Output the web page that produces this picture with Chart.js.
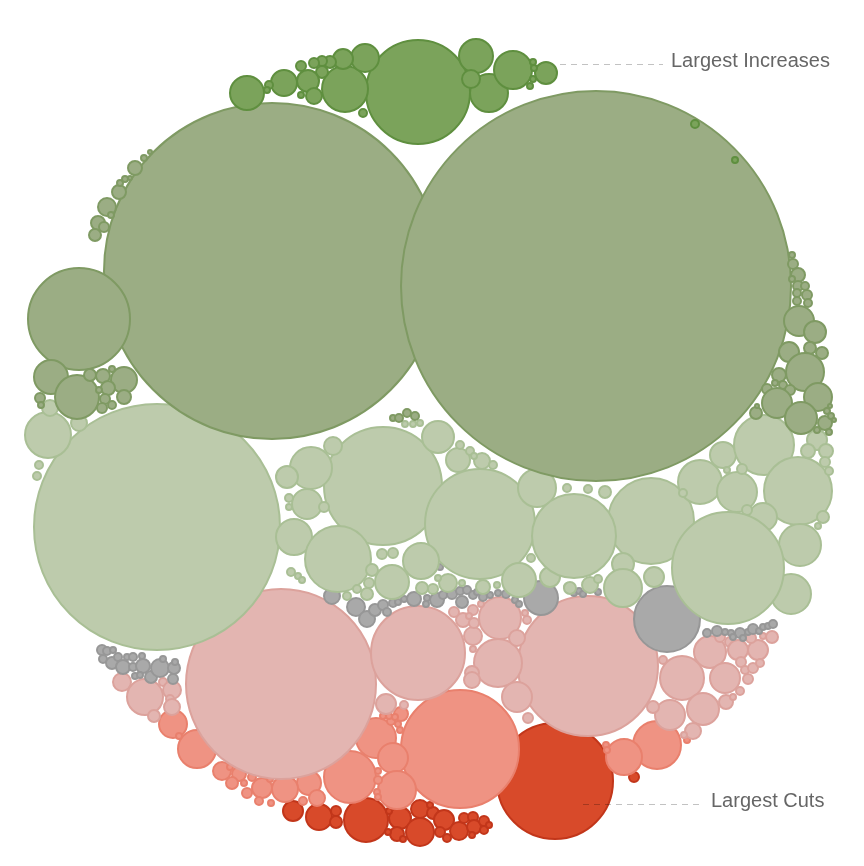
<!DOCTYPE html>
<html>
<head>
<meta charset="utf-8">
<script src="https://cdn.jsdelivr.net/npm/chart.js@4/dist/chart.umd.min.js"></script>
<style>
  html, body { margin: 0; padding: 0; background: #fff; }
  #wrap { width: 864px; height: 866px; position: relative; }
</style>
</head>
<body>
<div id="wrap"><canvas id="bubbles"></canvas></div>
<script>
// circles as [x, y, radius] (y grows downward)
const bigGains = [
  [418,92,52],[476,56,17],[489,93,19],[513,70,19],[471,79,9],[546,73,11],[534,68,3],[533,62,3],
  [533,79,3],[530,86,3],[345,89,23],[365,58,14],[343,59,10],[330,62,6],[322,61,5],[314,63,5],
  [301,66,5],[322,72,6],[308,81,11],[284,83,13],[247,93,17],[269,85,4],[267,90,3],[314,96,8],
  [301,95,3],[363,113,4],[695,124,4],[735,160,3]
];
const gains = [
  [272,271,168],[596,286,195],[79,319,51],[51,377,17],[77,397,22],[90,375,6],[103,376,7],
  [124,380,13],[124,397,7],[108,388,7],[105,399,5],[112,369,3],[40,398,5],[41,405,3],[102,408,5],
  [112,405,4],[99,390,3],
  [135,168,7],[144,158,3],[150,152,2],[119,192,7],[120,183,3],[125,179,3],[130,178,2],[107,207,9],
  [111,215,3],[98,223,7],[104,227,5],[95,235,6],
  [792,255,3],[793,264,5],[798,275,7],[792,279,3],[798,286,5],[805,286,4],[797,293,4],[807,295,5],
  [797,301,4],[808,303,4],[799,321,15],[815,332,11],[789,352,10],[810,348,6],[822,353,6],[805,372,19],
  [779,375,7],[775,383,3],[783,385,4],[767,389,5],[790,390,5],[818,397,14],[777,403,15],[801,418,16],
  [756,413,6],[757,406,2],[825,423,7],[827,411,3],[830,406,2],[831,416,3],[834,420,2],[817,430,3],
  [829,432,3],
  [393,418,3],[399,418,4],[407,413,4],[415,416,4]
];
const smallGains = [
  [157,527,123],[48,435,23],[50,408,8],[79,423,8],[39,465,4],[37,476,4],
  [383,486,59],[333,446,9],[311,468,21],[287,477,11],[307,504,15],[289,498,4],[289,507,3],[324,507,5],
  [294,537,18],[338,559,33],[438,437,16],[458,460,12],[460,445,4],[470,451,4],[482,461,8],[493,465,4],
  [474,456,3],[405,424,3],[413,424,3],[420,423,3],
  [480,524,55],[537,488,19],[567,488,4],[588,489,4],[605,492,6],[382,554,5],[393,553,5],[421,561,18],
  [392,582,17],[372,570,6],[369,583,5],[367,594,6],[291,572,4],[298,576,3],[302,580,3],[448,583,9],
  [422,588,6],[433,589,5],[438,578,3],[483,587,7],[462,583,3],[519,580,17],[531,558,4],[550,577,10],
  [497,585,3],[357,589,4],[347,596,4],[568,587,4],
  [651,521,43],[574,536,42],[700,482,22],[723,455,13],[737,492,20],[764,445,30],[742,469,5],[727,470,3],
  [683,493,4],[798,491,34],[763,517,14],[747,510,5],[800,545,21],[791,594,20],[728,568,56],[817,440,10],
  [808,451,7],[826,451,7],[825,462,5],[829,471,4],[823,517,6],[818,526,3],[623,564,11],[623,588,19],
  [654,577,10],[570,588,6],[590,585,8],[598,579,4]
];
const noChange = [
  [667,619,33],[541,598,17],[332,596,8],[356,607,9],[367,619,8],[375,610,6],[383,605,5],[387,612,4],
  [393,603,4],[398,602,3],[404,599,3],[414,599,7],[427,598,3],[426,604,3],[437,600,7],[443,595,4],
  [452,594,5],[460,591,4],[467,590,4],[462,602,6],[473,595,4],[477,592,3],[483,597,4],[490,595,3],
  [498,593,3],[506,594,4],[515,600,3],[519,604,3],[440,567,3],[574,593,3],[579,591,3],[583,594,3],
  [598,592,3],
  [707,633,4],[717,631,5],[725,632,3],[731,633,3],[740,633,5],[733,637,3],[743,638,3],[748,632,3],
  [753,629,5],[759,631,3],[763,627,3],[768,626,3],[773,624,4],
  [102,650,5],[107,651,4],[113,650,3],[103,659,4],[112,663,6],[118,657,4],[123,667,7],[127,657,3],
  [133,657,4],[133,667,4],[142,656,3],[143,666,7],[151,677,6],[160,668,9],[163,659,3],[174,668,6],
  [175,662,3],[173,679,5],[135,676,3],[140,675,3]
];
const smallCuts = [
  [281,684,95],[588,666,70],[418,653,47],[500,618,21],[498,663,24],[517,638,8],[473,636,9],[463,620,7],
  [454,612,5],[474,623,5],[473,610,5],[481,604,3],[469,616,3],[473,649,3],[472,673,7],[527,620,4],
  [525,613,3],[517,697,15],[528,718,5],[472,680,8],[386,704,10],[404,705,4],
  [663,660,4],[682,678,22],[710,652,16],[720,637,5],[730,642,5],[738,650,10],[758,650,10],[751,638,5],
  [772,637,6],[763,636,3],[725,678,15],[741,662,5],[745,670,4],[753,668,5],[760,663,4],[748,679,5],
  [726,702,7],[740,691,4],[733,697,3],[703,709,16],[670,715,15],[653,707,6],[693,731,8],[684,735,3],
  [122,682,9],[145,697,18],[163,682,4],[172,690,9],[170,699,4],[172,707,8],[154,716,6]
];
const cuts = [
  [460,749,59],[657,745,24],[624,757,18],[606,745,3],[607,750,3],[687,740,3],[197,749,19],[173,724,14],
  [179,736,3],[376,738,20],[393,758,15],[401,714,7],[391,721,4],[383,716,3],[389,716,3],[395,717,3],
  [398,724,3],[400,730,3],[350,777,26],[397,790,19],[378,771,3],[378,780,4],[377,792,3],[378,797,3],
  [309,783,12],[317,798,8],[303,801,4],[285,789,13],[262,788,10],[252,777,4],[259,801,4],[270,779,3],
  [271,803,3],[222,771,9],[239,774,7],[232,783,6],[247,793,5],[244,783,3],[230,767,3]
];
const bigCuts = [
  [555,781,58],[634,777,5],[366,820,22],[319,817,13],[293,811,10],[336,811,5],[336,822,6],[400,818,11],
  [397,834,7],[420,809,9],[420,832,14],[433,813,6],[444,820,10],[459,831,9],[440,832,5],[447,838,4],
  [464,818,5],[473,817,5],[474,827,7],[484,821,5],[484,830,4],[489,825,3],[472,835,3],[403,839,3],
  [389,811,3],[388,832,3],[430,805,3]
];

const groupNames = ['Largest Increases', 'Increases', 'Small Increases', 'No Change', 'Small Cuts', 'Cuts', 'Largest Cuts'];
const groupData = [bigGains, gains, smallGains, noChange, smallCuts, cuts, bigCuts];
const fills   = ['#7ba35b', '#9bad84', '#bdcbac', '#a9a9a9', '#e3b5b1', '#ef9383', '#d84a2a'];
const borders = ['#5f8f3f', '#7f9a63', '#a9bf95', '#979797', '#dca29c', '#e9806d', '#c2361a'];

// leader lines + captions
const callouts = {
  id: 'callouts',
  afterDatasetsDraw(chart) {
    const ctx = chart.ctx;
    const xs = chart.scales.x, ys = chart.scales.y;
    const items = [
      { text: 'Largest Increases', x0: 560, x1: 663, y: 64, tx: 671 },
      { text: 'Largest Cuts', x0: 583, x1: 703, y: 804, tx: 711 }
    ];
    ctx.save();
    items.forEach(it => {
      const py = ys.getPixelForValue(it.y);
      ctx.beginPath();
      ctx.setLineDash([6, 5]);
      ctx.strokeStyle = 'rgba(0,0,0,0.24)';
      ctx.lineWidth = 1;
      ctx.moveTo(xs.getPixelForValue(it.x0), py + 0.5);
      ctx.lineTo(xs.getPixelForValue(it.x1), py + 0.5);
      ctx.stroke();
      ctx.setLineDash([]);
      ctx.fillStyle = '#666';
      ctx.font = '20px "Liberation Sans", Arial, sans-serif';
      ctx.textBaseline = 'middle';
      ctx.fillText(it.text, xs.getPixelForValue(it.tx), py - 3);
    });
    ctx.restore();
  }
};

new Chart(document.getElementById('bubbles'), {
  type: 'bubble',
  data: {
    datasets: groupData.map((pts, i) => ({
      label: groupNames[i],
      data: pts.map(p => ({ x: p[0], y: p[1], r: p[2] })),
      backgroundColor: fills[i],
      borderColor: borders[i],
      borderWidth: 2,
      clip: false
    }))
  },
  options: {
    responsive: true,
    maintainAspectRatio: false,
    animation: false,
    events: [],
    layout: { autoPadding: false, padding: 0 },
    plugins: { legend: { display: false }, tooltip: { enabled: false } },
    scales: {
      x: { type: 'linear', min: 0, max: 864, display: false },
      y: { type: 'linear', min: 0, max: 866, reverse: true, display: false }
    }
  },
  plugins: [callouts]
});
</script>
</body>
</html>
